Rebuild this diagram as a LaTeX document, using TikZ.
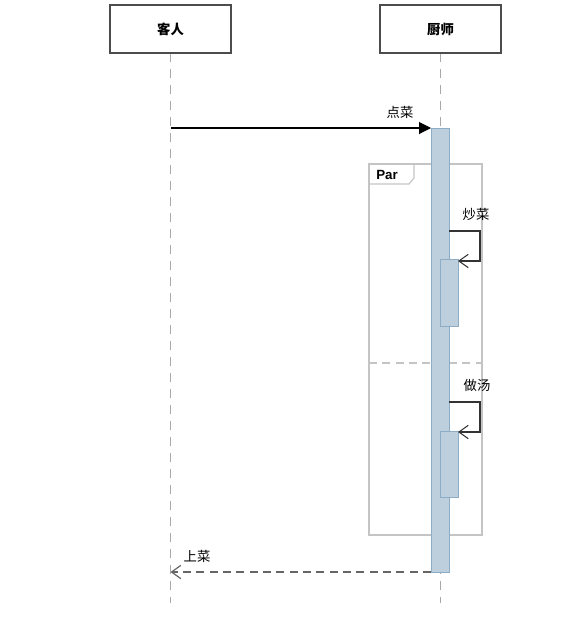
\documentclass[tikz,border=0pt]{standalone}
\usepackage{fontspec}
\setmainfont{Liberation Sans}
\newfontfamily\cjk{Noto Sans CJK SC}
\usetikzlibrary{arrows.meta}
\definecolor{actfill}{HTML}{BDCFDD}
\definecolor{actline}{HTML}{8DADC6}
\definecolor{framegray}{HTML}{C4C4C4}
\definecolor{lifegray}{HTML}{A8A8A8}
\tikzset{
  actor/.style={draw=black!70,line width=0.9pt,fill=white,minimum width=90.75pt,minimum height=36pt,font=\cjk\bfseries\normalsize},
  lifeline/.style={lifegray,dash pattern=on 7pt off 5pt,line width=0.7pt},
  actbar/.style={fill=actfill,draw=actline,line width=0.7pt},
  msg/.style={black,line width=0.8pt,-{Triangle[length=9pt,width=9pt]}},
  selfmsg/.style={black!80,line width=0.8pt,-{Straight Barb[length=7pt,width=10pt]}},
  retmsg/.style={black!60,line width=0.9pt,dash pattern=on 6pt off 4pt,-{Straight Barb[length=7pt,width=10pt]}},
  lbl/.style={font=\cjk\normalsize,inner sep=1pt}
}
\begin{document}
\begin{tikzpicture}[x=0.75pt,y=-0.75pt]
\useasboundingbox (0,0) rectangle (569,619);

% lifelines
\draw[lifeline] (170.5,53) -- (170.5,603);
\draw[lifeline] (440.5,53) -- (440.5,603);

% actors
\node[actor] (guest) at (170.5,29) {客人};
\node[actor] (chef) at (440.5,29) {厨师};

% par frame
\draw[framegray,line width=0.9pt] (369,164) rectangle (482,535);
\draw[framegray,line width=0.9pt] (369,184) -- (409,184) -- (414,178) -- (414,164);
\node[font=\bfseries\normalsize,anchor=west,inner sep=0pt] (par) at (376,175) {Par};
\draw[framegray,line width=0.9pt,dash pattern=on 6pt off 4pt] (369,363) -- (482,363);

% main activation
\draw[actbar] (431,128) rectangle (449,572);

% order
\coordinate (orderstart) at (170.5,128);
\coordinate (orderend) at (431,128);
\draw[msg] (orderstart) -- (orderend);
\node[lbl] (order) at (400,112) {点菜};

% cook
\coordinate (cookout) at (449,231);
\coordinate (cookin) at (458,261);
\draw[actbar] (440,259) rectangle (458,326);
\draw[selfmsg] (cookout) -- (480,231) -- (480,261) -- (cookin);
\node[lbl] (cook) at (476,214) {炒菜};

% soup
\coordinate (soupout) at (449,402);
\coordinate (soupin) at (458,432);
\draw[actbar] (440,431) rectangle (458,497);
\draw[selfmsg] (soupout) -- (480,402) -- (480,432) -- (soupin);
\node[lbl] (soup) at (477,385) {做汤};

% serve
\coordinate (servestart) at (431,572);
\coordinate (serveend) at (170.5,572);
\draw[retmsg] (servestart) -- (serveend);
\node[lbl] (serve) at (197,556) {上菜};
\end{tikzpicture}
\end{document}
